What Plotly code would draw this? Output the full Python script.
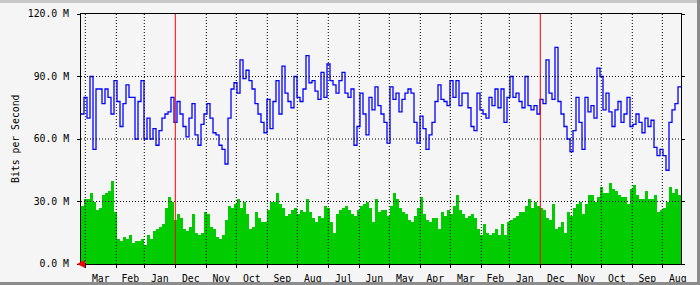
import pandas as pd
import plotly.graph_objects as go

# ---- data (values in Mbit/s, newest first, one value per 3-day bin) ----
now = pd.Timestamp("2010-04-05 07:12")
bin_days = 3

in_bits = [
    28, 31, 31, 34, 30, 26, 27, 33, 34, 35, 40, 25, 12, 11, 13, 12, 14, 10, 11, 11,
    12, 9, 14, 12, 16, 17, 18, 19, 27, 32, 30, 21, 24, 22,
    17, 16, 18, 24, 15, 14, 15, 25, 24, 18, 17, 13, 12, 14, 21, 28, 27, 29, 31, 27,
    30, 24, 17, 18, 25, 22, 20, 20, 26, 30, 30, 34, 29,
    27, 23, 24, 26, 27, 24, 26, 25, 31, 25, 22, 20, 23, 22, 28, 27, 20, 15, 24, 26,
    27, 28, 26, 24, 23, 26, 28, 29, 30, 27, 20, 31, 25,
    26, 26, 23, 28, 34, 31, 27, 25, 24, 21, 20, 23, 27, 32, 24, 21, 20, 22, 22, 17,
    25, 23, 26, 24, 28, 33, 26, 24, 22, 23, 24, 22, 17, 14,
    19, 15, 14, 15, 17, 14, 19, 14, 20, 21, 22, 23, 25, 25, 28, 31, 27, 30, 28, 27,
    26, 22, 21, 29, 17, 18, 20, 15, 25, 23, 27, 29, 30,
    24, 29, 33, 33, 30, 32, 37, 34, 34, 39, 36, 35, 33, 32, 32, 29, 36, 38, 33, 31,
    31, 35, 31, 31, 33, 25, 26, 27, 30, 37, 34, 36, 33,
]
out_bits = [
    72, 80, 70, 90, 55, 84, 84, 77, 84, 80, 72, 88, 78, 66, 77, 86, 80, 80, 60, 78,
    88, 60, 70, 60, 65, 57, 64, 70, 72, 73, 80, 68, 78, 72,
    66, 61, 70, 77, 62, 57, 67, 72, 77, 70, 63, 62, 57, 55, 48, 70, 84, 87, 82, 98,
    89, 93, 88, 84, 77, 72, 68, 63, 79, 65, 78, 88, 72,
    95, 82, 78, 75, 90, 80, 78, 84, 100, 87, 88, 83, 79, 92, 80, 96, 88, 86, 82, 88,
    92, 82, 80, 84, 57, 66, 82, 72, 62, 80, 74, 85, 76,
    72, 68, 58, 85, 79, 82, 73, 79, 82, 84, 82, 68, 58, 71, 65, 55, 62, 68, 78, 86,
    79, 78, 76, 88, 80, 88, 76, 82, 82, 75, 66, 64, 82, 74,
    72, 70, 80, 76, 84, 75, 84, 68, 80, 90, 80, 82, 78, 75, 90, 76, 74, 76, 72, 79,
    77, 98, 82, 79, 104, 78, 72, 66, 60, 54, 64, 80, 68,
    55, 80, 73, 76, 70, 94, 90, 74, 82, 73, 66, 74, 78, 68, 72, 80, 66, 67, 72, 68,
    63, 70, 66, 69, 56, 52, 55, 52, 45, 68, 74, 77, 85,
]
y_ticks = [0, 30, 60, 90, 120]
y_labels = ["0.0 M", "30.0 M", "60.0 M", "90.0 M", "120.0 M"]
y_title = "Bits per Second"

# ---- layout geometry ----
W, H = 700, 285
ML, MR, MT, MB = 81, 19, 14, 21
PW, PH = W - ML - MR, H - MT - MB
BG = "#f5f5f5"
FONT = dict(family="DejaVu Sans Mono", size=9.8, color="#000000")


def px_x(p):
    return (p - ML) / PW


def px_y(p):
    return (H - MB - p) / PH


n = len(in_bits)
day = pd.Timedelta(days=1)
starts = [now - day * (bin_days * i) for i in range(n)]
centers = [s - day * (bin_days / 2) for s in starts]
end = now - day * (bin_days * n)

# month boundaries and centred month labels
month_starts = list(pd.date_range((end - pd.offsets.MonthBegin(1)).normalize(), now + pd.offsets.MonthBegin(1), freq="MS"))
label_pos, label_txt = [], []
for a, b in zip(month_starts[:-1], month_starts[1:]):
    mid = a + (b - a) / 2
    if end <= mid <= now:
        label_pos.append(mid)
        label_txt.append(a.strftime("%b"))

fig = go.Figure()
fig.add_bar(x=centers, y=in_bits, width=bin_days * 86400000,
            marker=dict(color="#00cc00", line=dict(width=0)), name="in")
fig.add_scatter(x=starts + [end], y=out_bits + [out_bits[-1]], mode="lines",
                line=dict(color="#0000ff", width=1.3, shape="hv"), name="out")

shapes = []
# month grid (red at year change), drawn above the data
for m in month_starts:
    if not (end < m < now):
        continue
    if m.month == 1:
        ln = dict(color="#ff0000", width=1)
    else:
        ln = dict(color="#000000", width=1, dash="1px,2px")
    shapes.append(dict(type="line", xref="x", yref="paper", x0=m, x1=m, y0=0, y1=1,
                       line=ln, layer="above"))
for v in y_ticks[1:-1]:
    shapes.append(dict(type="line", xref="paper", yref="y", x0=0, x1=1, y0=v, y1=v,
                       line=dict(color="#000000", width=1, dash="1px,2px"), layer="above"))
# frame of the image
shapes.append(dict(type="rect", xref="paper", yref="paper", x0=px_x(0), x1=px_x(W),
                   y0=px_y(3), y1=px_y(0), fillcolor="#c8c8c8", line=dict(width=0)))
shapes.append(dict(type="rect", xref="paper", yref="paper", x0=px_x(W - 3), x1=px_x(W),
                   y0=px_y(H), y1=px_y(0), fillcolor="#8c8c8c", line=dict(width=0)))
shapes.append(dict(type="rect", xref="paper", yref="paper", x0=px_x(0), x1=px_x(W),
                   y0=px_y(H), y1=px_y(H - 3), fillcolor="#8c8c8c", line=dict(width=0)))

annotations = [
    dict(text=y_title, xref="paper", yref="paper", x=px_x(15), y=0.5,
         textangle=-90, showarrow=False, font=FONT, xanchor="center", yanchor="middle"),
    # red arrow at the origin (MRTG time-direction marker)
    dict(text="", xref="paper", yref="y", x=px_x(77), y=0, ax=6, ay=0,
         showarrow=True, arrowhead=2, arrowsize=1, arrowwidth=1.6, arrowcolor="#ff0000"),
]

fig.update_layout(
    width=W, height=H,
    margin=dict(l=ML, r=MR, t=MT, b=MB, pad=0, autoexpand=False),
    paper_bgcolor=BG, plot_bgcolor=BG,
    showlegend=False, bargap=0,
    font=FONT,
    shapes=shapes,
    annotations=annotations,
    xaxis=dict(type="date", range=[now, end], showgrid=False, zeroline=False,
               automargin=False,
               tickmode="array", tickvals=label_pos, ticktext=label_txt, ticks="",
               minor=dict(dtick="M1", tick0="2000-01-01", ticks="outside", ticklen=3,
                          tickcolor="#000000", tickwidth=1, showgrid=False),
               showline=True, linecolor="#000000", linewidth=1, mirror=True,
               tickfont=FONT, ticklabelstandoff=5),
    yaxis=dict(range=[0, 120], tickvals=y_ticks, ticktext=y_labels,
               showgrid=False, zeroline=False, automargin=False,
               ticks="outside", ticklen=3, tickcolor="#000000", tickwidth=1,
               showline=True, linecolor="#000000", linewidth=1, mirror="ticks",
               tickfont=FONT, ticklabelstandoff=6),
)

fig.write_html("out.html")
